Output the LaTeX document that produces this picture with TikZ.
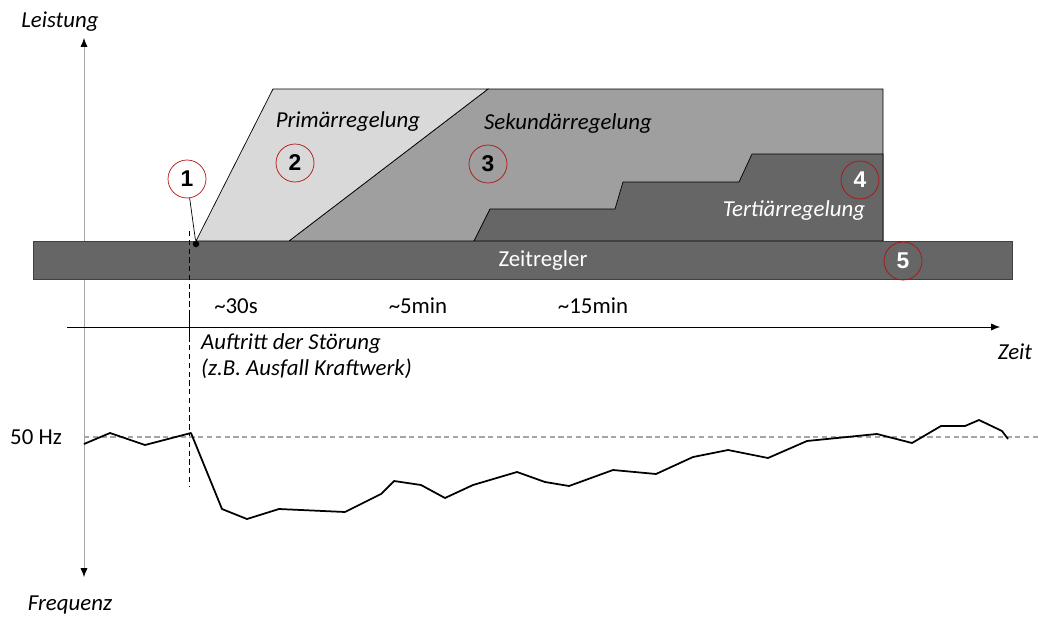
\documentclass[tikz,border=0pt]{standalone}
\usepackage{fontspec}
\setmainfont{Carlito}
\newfontfamily\numfont{Liberation Sans}
\usetikzlibrary{arrows.meta}
\usetikzlibrary{positioning}

\definecolor{primfill}{HTML}{D9D9D9}
\definecolor{sekfill}{HTML}{9F9F9F}
\definecolor{tertfill}{HTML}{666666}
\definecolor{markred}{HTML}{B01010}
\definecolor{axisgray}{HTML}{A6A6A6}

\tikzset{
  marker/.style={circle,draw=markred,thin,minimum size=0.76cm,inner sep=0pt,
    font=\numfont\bfseries\fontsize{13}{13}\selectfont},
  itlabel/.style={font=\itshape\fontsize{13}{15}\selectfont},
  plainlabel/.style={font=\fontsize{13}{15}\selectfont},
  area/.style={draw=black,thin},
}

\begin{document}
\begin{tikzpicture}[x=0.02cm,y=-0.02cm]
\useasboundingbox (0,0) rectangle (1038,622);

% axis labels
\node[itlabel] (leistung) at (60,22) {Leistung};
\node[itlabel] (frequenz) at (70,605) {Frequenz};
\node[itlabel] (zeit) at (1015,352) {Zeit};
\coordinate (ytop) at (84,38);
\coordinate (ybot) at (84,577);
\draw[axisgray,thin,{Latex[black,length=5pt,width=4pt]}-{Latex[black,length=5pt,width=4pt]}] (ybot) -- (ytop);

% control areas
\filldraw[area,fill=sekfill] (289,241) -- (488,89) -- (883,89) -- (883,241) -- cycle;
\filldraw[area,fill=primfill] (196,241) -- (273,89) -- (488,89) -- (289,241) -- cycle;
\filldraw[area,fill=tertfill] (474,241) -- (490,209) -- (615,209) -- (623,182) -- (739,182)
  -- (752,154) -- (883,154) -- (883,241) -- cycle;
\filldraw[draw=black!75,fill=tertfill] (33,241) rectangle (1012,279);

\node[itlabel] (prim) at (348,122) {Primärregelung};
\node[itlabel] (sek) at (568,124) {Sekundärregelung};
\node[itlabel,text=white] (tert) at (794,211) {Tertiärregelung};
\node[plainlabel,text=white] (zeitregler) at (543,261) {Zeitregler};

% markers
\node[marker,fill=white] (m1) at (187,179) {1};
\node[marker] (m2) at (295,163) {2};
\node[marker] (m3) at (488,164) {3};
\node[marker,text=white] (m4) at (860,180) {4};
\node[marker,text=white] (m5) at (903,261) {5};
\node[circle,fill=black,inner sep=0pt,minimum size=0.13cm] (stoer) at (196,244) {};
\draw[thin] (m1) -- (stoer);

% time axis
\coordinate (tstart) at (67,327);
\coordinate (tend) at (1000,327);
\draw[thin,-{Latex[length=5pt,width=4pt]}] (tstart) -- (tend);
\draw[thin,dash pattern=on 3pt off 2pt] (189,231) -- (189,487);
\draw[thin] (189,314) -- (189,342);
\node[plainlabel] (t30) at (236,306) {\textasciitilde30s};
\node[plainlabel] (t5) at (418,306) {\textasciitilde5min};
\node[plainlabel] (t15) at (593,306) {\textasciitilde15min};
\node[itlabel,anchor=west,align=left] (stoertext) at (195,356) {Auftritt der Störung\\(z.B. Ausfall Kraftwerk)};

% frequency
\node[plainlabel] (hz) at (36,437) {50 Hz};
\draw[axisgray,thick,dash pattern=on 3pt off 2pt] (84,437) -- (1038,437);
\draw[line width=1pt,line join=round] plot coordinates {(84,444) (110,433) (145,445) (191,433) (222,509)
  (247,519) (279,509) (345,512) (381,494) (394,481) (421,485) (445,498) (473,485) (517,472)
  (545,482) (569,486) (613,470) (656,474) (693,457) (728,450) (768,458) (807,441) (877,434)
  (912,443) (941,426) (965,426) (979,420) (1002,431) (1008,439)};

\end{tikzpicture}
\end{document}
